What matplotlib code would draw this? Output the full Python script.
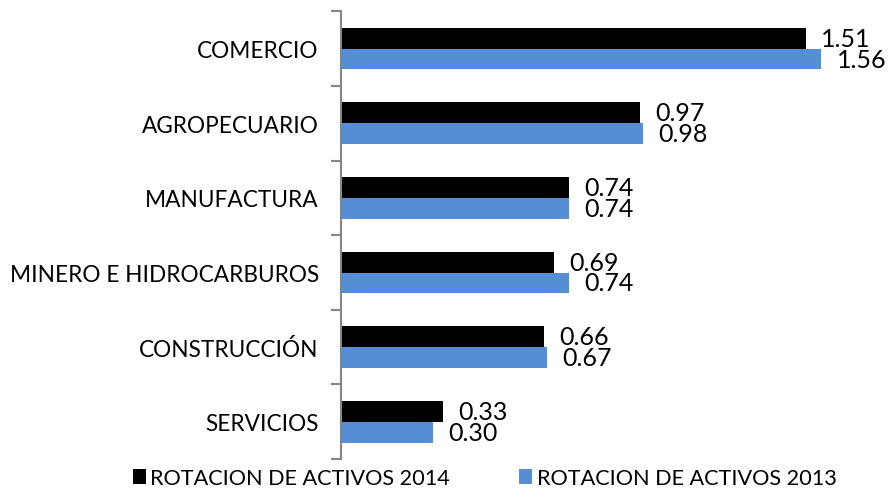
import numpy as np
import matplotlib.pyplot as plt

plt.rcParams['font.family'] = ['Lato', 'DejaVu Sans']

categorias = ['COMERCIO', 'AGROPECUARIO', 'MANUFACTURA', 'MINERO E HIDROCARBUROS',
              'CONSTRUCCIÓN', 'SERVICIOS']
rot_2014 = [1.51, 0.97, 0.74, 0.69, 0.66, 0.33]
rot_2013 = [1.56, 0.98, 0.74, 0.74, 0.67, 0.30]

fig = plt.figure(figsize=(8.88, 4.89), dpi=100)
ax = fig.add_axes([0.384, 0.059, 0.607, 0.916])

y = np.arange(len(categorias))
h = 0.28
b1 = ax.barh(y - h / 2, rot_2014, height=h, color='#000000', label='ROTACION DE ACTIVOS 2014')
b2 = ax.barh(y + h / 2, rot_2013, height=h, color='#558ED5', label='ROTACION DE ACTIVOS 2013')
ax.bar_label(b1, labels=['%.2f' % v for v in rot_2014], padding=11, fontsize=18)
ax.bar_label(b2, labels=['%.2f' % v for v in rot_2013], padding=11, fontsize=18)

ax.set_ylim(len(categorias) - 0.5, -0.5)
ax.set_xlim(0, 1.75)
ax.set_yticks(y)
ax.set_yticklabels(categorias, fontsize=16.3)
ax.tick_params(axis='y', which='major', length=0, pad=16)
ax.set_yticks(np.arange(-0.5, len(categorias)), minor=True)
ax.tick_params(axis='y', which='minor', length=7, width=1.5, color='#868686')
ax.set_xticks([])
for s in ['top', 'right', 'bottom']:
    ax.spines[s].set_visible(False)
ax.spines['left'].set_color('#868686')
ax.spines['left'].set_linewidth(1.5)

fig.legend(loc='center', bbox_to_anchor=(0.546, 0.02), ncol=2, frameon=False,
           fontsize=15.6, handlelength=0.6, handleheight=0.7, handletextpad=0.2,
           columnspacing=3.2)

fig.savefig('out.png', dpi=100)
